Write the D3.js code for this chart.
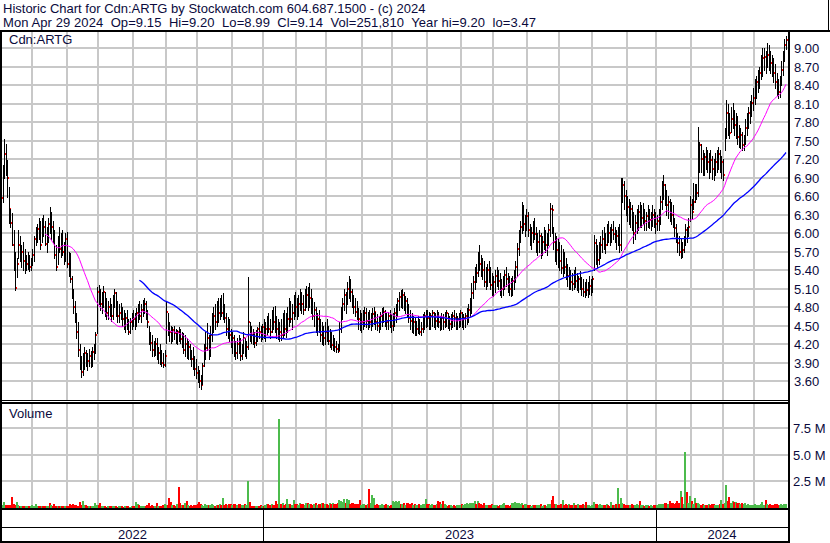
<!DOCTYPE html>
<html><head><meta charset="utf-8">
<script src="https://cdn.jsdelivr.net/npm/d3@7"></script>
<style>
body{margin:0;background:#fff}
svg{display:block}
text{font-family:Arial,"Liberation Sans",sans-serif;font-size:13px;fill:#0a0a3c}
</style>
</head><body>
<svg id="c" width="830" height="543"></svg>
<script>
// ---- categories: trading days (TSX holidays removed) ----
const firstDay = "2022-05-02";
const lastDay = "2024-04-29";
const holidays = ["2022-05-23","2022-07-01","2022-08-01","2022-09-05","2022-10-10","2022-12-26","2022-12-27",
"2023-01-02","2023-02-20","2023-04-07","2023-05-22","2023-07-03","2023-08-07","2023-09-04","2023-10-09","2023-12-25","2023-12-26",
"2024-01-01","2024-02-19","2024-03-29"];

// ---- series values ----
const high = [
6.60,6.86,7.10,7.53,7.45,7.19,6.75,6.40,6.33,6.05, 5.70,5.60,6.05,5.95,5.80,5.85,5.75,5.65,5.70,5.65,
5.60,5.75,5.95,6.10,6.15,6.25,6.20,6.25,6.30,6.20, 6.10,6.25,6.42,6.35,6.20,6.05,5.80,5.95,6.10,6.00,
6.05,5.85,6.00,6.02,5.70,5.68,5.30,5.10,4.90,4.70, 4.55,4.20,4.00,4.05,4.15,4.10,4.05,4.12,4.08,4.15,
4.20,4.40,5.13,5.16,5.10,5.05,5.15,5.05,4.95,4.90, 4.95,4.85,5.00,5.10,5.05,4.90,4.85,4.87,4.80,4.75,
4.70,4.75,4.60,4.62,4.70,4.75,4.70,4.78,4.85,4.90, 4.85,4.92,4.95,4.90,4.75,4.50,4.40,4.35,4.25,4.30,
4.30,4.15,4.20,4.10,4.05,4.10,4.88,4.70,4.55,4.50, 4.48,4.50,4.45,4.42,4.48,4.45,4.40,4.38,4.35,4.30,
4.25,4.20,4.10,4.15,4.00,3.95,3.85,3.78,3.70,3.90, 4.20,4.40,4.54,4.35,4.50,4.70,4.80,4.85,4.90,4.95,
4.95,5.00,5.03,4.85,4.70,4.64,4.60,4.45,4.40,4.35, 4.25,4.30,4.35,4.30,4.20,4.40,4.30,4.25,5.29,4.55,
4.50,4.45,4.40,4.42,4.48,4.55,4.50,4.52,4.60,4.55, 4.65,4.70,4.60,4.75,4.80,4.82,4.65,4.60,4.55,4.60,
4.70,4.75,4.70,4.80,4.95,4.90,4.85,5.00,5.05,4.95, 5.00,5.10,5.05,5.00,5.10,5.15,5.12,5.19,5.10,4.95,
4.88,4.80,4.70,4.75,4.60,4.55,4.50,4.55,4.60,4.50, 4.45,4.40,4.35,4.30,4.25,4.20,4.55,4.80,4.95,5.10,
5.05,5.20,5.30,5.25,5.10,5.00,4.95,4.90,4.78,4.75, 4.70,4.75,4.80,4.78,4.72,4.75,4.70,4.78,4.80,4.72,
4.68,4.65,4.72,4.78,4.80,4.75,4.70,4.72,4.75,4.68, 4.70,4.78,4.85,4.95,5.05,5.08,5.09,5.05,4.98,4.95,
4.85,4.75,4.70,4.65,4.62,4.58,4.65,4.60,4.55,4.68, 4.72,4.75,4.75,4.72,4.70,4.75,4.72,4.70,4.75,4.72,
4.65,4.70,4.68,4.72,4.75,4.70,4.65,4.68,4.72,4.75, 4.70,4.66,4.70,4.75,4.72,4.68,4.70,4.78,4.85,4.95,
5.19,5.30,5.45,5.50,5.70,5.80,5.65,5.60,5.55,5.45, 5.50,5.55,5.45,5.35,5.30,5.40,5.45,5.40,5.35,5.25,
5.30,5.40,5.45,5.35,5.30,5.28,5.30,5.40,5.55,5.84, 6.05,6.20,6.50,6.45,6.30,6.40,6.35,6.15,6.10,6.20,
6.25,6.10,6.00,6.05,6.00,5.95,6.10,6.05,6.00,6.15, 6.49,6.45,6.10,6.00,5.95,5.90,5.85,5.80,5.75,5.70,
5.60,5.50,5.45,5.40,5.35,5.40,5.45,5.35,5.30,5.38, 5.29,5.25,5.20,5.25,5.20,5.30,5.25,5.30,5.97,5.90,
5.80,5.85,5.95,6.05,6.10,6.00,6.15,6.20,6.10,6.15, 6.20,6.10,6.05,6.10,6.15,6.90,6.90,6.85,6.70,6.60,
6.55,6.50,6.45,6.35,6.30,6.40,6.45,6.50,6.45,6.49, 6.40,6.35,6.45,6.40,6.35,6.45,6.40,6.35,6.30,6.40,
6.60,6.85,6.94,6.80,6.70,6.60,6.55,6.50,6.45,6.25, 6.15,6.00,5.95,5.90,5.85,5.95,6.15,6.10,6.25,6.60,
6.55,6.81,6.80,6.80,7.72,7.48,7.45,7.35,7.30,7.40, 7.35,7.30,7.35,7.25,7.20,7.30,7.35,7.40,7.35,7.25,
7.20,7.70,8.16,8.10,7.95,8.05,8.11,8.00,7.95,7.90, 7.75,7.70,7.65,7.60,7.85,7.95,8.05,8.15,8.25,8.35,
8.50,8.55,8.65,8.70,8.90,9.00,9.00,8.95,9.09,9.05, 8.95,8.90,8.85,8.75,8.60,8.50,8.55,8.80,8.95,9.15,
9.20];
const low = [
6.20,6.34,6.50,6.90,6.95,6.59,6.16,6.10,5.80,5.40, 5.08,5.29,5.60,5.55,5.45,5.40,5.35,5.40,5.42,5.38,
5.40,5.48,5.55,5.80,5.85,5.90,5.75,5.85,5.95,5.80, 5.70,5.85,6.00,5.90,5.85,5.60,5.40,5.50,5.70,5.62,
5.65,5.50,5.55,5.45,5.30,5.20,4.95,4.70,4.55,4.30, 4.00,3.80,3.66,3.70,3.80,3.85,3.78,3.85,3.82,3.85,
3.95,4.05,4.38,4.85,4.75,4.70,4.80,4.65,4.60,4.60, 4.65,4.58,4.60,4.80,4.65,4.55,4.55,4.60,4.50,4.45,
4.40,4.45,4.37,4.38,4.45,4.50,4.45,4.50,4.55,4.60, 4.55,4.65,4.70,4.60,4.48,4.20,4.10,4.00,4.00,4.02,
3.95,3.90,3.88,3.85,3.83,3.85,4.22,4.35,4.25,4.22, 4.25,4.28,4.22,4.20,4.25,4.22,4.15,4.05,4.00,3.98,
3.95,3.95,3.85,3.80,3.70,3.65,3.58,3.50,3.47,3.55, 3.85,3.95,4.10,3.95,4.00,4.25,4.40,4.45,4.50,4.55,
4.60,4.65,4.60,4.55,4.35,4.30,4.25,4.15,4.05,4.00, 3.95,3.98,4.05,3.94,3.95,4.05,4.00,3.98,4.12,4.25,
4.22,4.20,4.15,4.18,4.25,4.30,4.25,4.28,4.30,4.25, 4.35,4.40,4.30,4.40,4.45,4.40,4.30,4.28,4.25,4.27,
4.30,4.35,4.31,4.40,4.50,4.55,4.45,4.60,4.65,4.60, 4.65,4.75,4.70,4.68,4.75,4.80,4.75,4.80,4.70,4.60,
4.50,4.40,4.35,4.40,4.25,4.20,4.18,4.20,4.25,4.20, 4.15,4.12,4.10,4.08,4.07,4.07,4.10,4.40,4.60,4.75,
4.70,4.85,4.95,4.90,4.80,4.70,4.65,4.60,4.45,4.43, 4.40,4.45,4.50,4.48,4.45,4.48,4.43,4.50,4.52,4.45,
4.42,4.40,4.45,4.50,4.55,4.50,4.45,4.45,4.48,4.40, 4.42,4.50,4.55,4.65,4.75,4.80,4.78,4.75,4.70,4.65,
4.55,4.45,4.40,4.38,4.35,4.35,4.38,4.36,4.35,4.40, 4.45,4.48,4.50,4.45,4.45,4.50,4.48,4.45,4.50,4.48,
4.43,4.45,4.45,4.48,4.50,4.46,4.43,4.45,4.48,4.50, 4.45,4.44,4.47,4.50,4.48,4.45,4.47,4.52,4.55,4.65,
4.70,4.95,5.10,5.20,5.30,5.40,5.30,5.25,5.15,5.10, 5.15,5.20,5.10,5.00,4.98,5.05,5.15,5.10,5.00,4.96,
5.00,5.10,5.15,5.05,5.00,4.98,5.00,5.10,5.20,5.30, 5.65,5.85,6.00,6.05,5.95,6.05,5.95,5.80,5.75,5.85,
5.90,5.70,5.65,5.70,5.60,5.65,5.75,5.70,5.65,5.80, 5.95,6.00,5.75,5.55,5.50,5.45,5.40,5.35,5.30,5.35,
5.25,5.15,5.10,5.10,5.08,5.10,5.12,5.08,5.05,5.10, 5.00,4.98,4.96,5.00,4.96,5.02,5.00,5.05,5.40,5.50,
5.45,5.50,5.60,5.70,5.75,5.68,5.80,5.85,5.80,5.85, 5.90,5.85,5.75,5.80,5.70,5.73,6.50,6.40,6.30,6.20,
6.15,6.10,6.05,5.84,5.90,6.00,6.05,6.10,6.10,6.15, 6.05,6.05,6.10,6.08,6.05,6.12,6.10,6.00,6.05,6.05,
6.15,6.40,6.55,6.45,6.30,6.25,6.20,6.15,6.10,5.95, 5.85,5.70,5.65,5.60,5.62,5.70,5.80,5.85,5.95,6.20,
6.25,6.40,6.50,6.55,6.60,7.00,7.00,6.95,6.95,7.05, 7.00,6.90,7.00,6.88,6.86,6.95,7.00,7.05,7.00,6.90,
6.86,7.35,7.55,7.60,7.55,7.65,7.70,7.60,7.55,7.45, 7.40,7.38,7.35,7.35,7.45,7.60,7.70,7.79,7.90,8.00,
8.10,8.20,8.30,8.35,8.50,8.55,8.65,8.60,8.70,8.65, 8.60,8.55,8.45,8.35,8.25,8.19,8.21,8.40,8.57,8.80,
8.99];
const close = [
6.40,6.57,7.00,7.28,7.10,6.90,6.40,6.16,5.80,5.60, 5.11,5.50,5.80,5.62,5.70,5.55,5.45,5.50,5.60,5.45,
5.50,5.65,5.90,6.05,6.07,6.00,5.80,6.18,6.10,5.82, 5.98,6.15,6.07,6.10,5.95,5.65,5.45,5.85,5.75,5.98,
5.70,5.60,5.90,5.50,5.45,5.25,5.03,4.80,4.60,4.40, 4.10,3.90,3.75,3.95,4.05,3.96,3.92,4.00,3.95,4.07,
4.10,4.35,5.05,5.00,4.85,4.95,5.05,4.75,4.70,4.80, 4.75,4.65,4.95,5.03,4.70,4.65,4.70,4.75,4.60,4.55,
4.62,4.50,4.40,4.55,4.65,4.60,4.55,4.70,4.78,4.65, 4.75,4.80,4.85,4.70,4.55,4.30,4.22,4.10,4.07,4.20,
4.00,4.05,3.95,3.90,3.86,4.00,4.72,4.45,4.40,4.30, 4.42,4.38,4.30,4.40,4.35,4.28,4.30,4.10,4.20,4.05,
4.15,4.00,3.95,3.90,3.80,3.73,3.67,3.60,3.54,3.85, 3.96,4.14,4.30,4.05,4.35,4.55,4.65,4.55,4.75,4.70,
4.85,4.70,4.75,4.62,4.45,4.55,4.35,4.20,4.30,4.10, 4.05,4.20,4.12,4.00,4.15,4.30,4.10,4.15,4.55,4.40,
4.35,4.25,4.22,4.35,4.45,4.40,4.30,4.48,4.38,4.45, 4.55,4.45,4.40,4.62,4.55,4.50,4.45,4.35,4.40,4.35,
4.55,4.45,4.40,4.60,4.75,4.60,4.70,4.90,4.80,4.70, 4.85,4.95,4.85,4.75,4.90,5.00,4.85,4.95,4.78,4.65,
4.75,4.50,4.60,4.45,4.35,4.45,4.30,4.40,4.35,4.25, 4.30,4.18,4.22,4.15,4.12,4.09,4.45,4.70,4.85,5.00,
4.90,5.10,5.15,5.05,4.95,4.80,4.72,4.70,4.60,4.50, 4.55,4.65,4.70,4.58,4.62,4.55,4.60,4.68,4.72,4.55,
4.50,4.48,4.65,4.70,4.72,4.62,4.55,4.65,4.52,4.49, 4.58,4.70,4.75,4.90,4.96,4.92,5.00,4.85,4.90,4.75,
4.62,4.58,4.48,4.55,4.42,4.45,4.50,4.40,4.45,4.60, 4.65,4.70,4.62,4.55,4.65,4.70,4.60,4.58,4.68,4.55,
4.50,4.62,4.55,4.65,4.70,4.60,4.52,4.58,4.66,4.62, 4.55,4.60,4.64,4.70,4.58,4.62,4.65,4.72,4.75,4.90,
5.03,5.20,5.40,5.35,5.55,5.50,5.45,5.40,5.20,5.30, 5.40,5.35,5.16,5.10,5.20,5.30,5.35,5.22,5.05,5.10,
5.20,5.32,5.25,5.15,5.10,5.05,5.22,5.35,5.45,5.75, 5.95,6.10,6.35,6.15,6.20,6.28,6.05,5.90,6.00,6.12,
5.98,5.80,5.85,5.95,5.70,5.85,5.90,5.80,5.92,6.05, 6.40,6.38,5.85,5.60,5.72,5.65,5.55,5.43,5.50,5.45,
5.35,5.30,5.38,5.20,5.17,5.28,5.22,5.15,5.25,5.20, 5.10,5.05,5.12,5.08,5.11,5.15,5.18,5.25,5.84,5.67,
5.56,5.75,5.80,5.90,5.85,5.80,6.02,6.00,5.95,6.05, 5.98,6.00,5.95,6.02,5.80,6.70,6.78,6.60,6.49,6.43,
6.30,6.40,6.20,6.00,6.17,6.25,6.35,6.20,6.25,6.32, 6.20,6.28,6.35,6.22,6.25,6.30,6.28,6.15,6.20,6.30,
6.50,6.70,6.78,6.55,6.45,6.50,6.38,6.30,6.20,6.08, 5.95,5.84,5.70,5.80,5.72,5.85,6.05,5.95,6.10,6.45,
6.35,6.50,6.70,6.65,7.10,7.43,7.20,7.10,7.24,7.19, 7.15,7.20,7.19,7.05,7.02,7.15,7.25,7.28,7.10,7.15,
6.95,7.60,7.95,7.67,7.62,7.85,7.88,7.75,7.80,7.56, 7.50,7.60,7.43,7.45,7.70,7.80,7.95,8.05,8.12,8.20,
8.35,8.45,8.55,8.60,8.70,8.85,8.86,8.80,8.90,8.85, 8.76,8.70,8.60,8.45,8.40,8.30,8.45,8.65,8.84,9.05,
9.14];
// daily volume, thousands of shares
const volume = [
300,250,200,480,200,150,200,150,980,250, 200,440,150,100,120,80,100,60,80,100,
70,150,100,300,80,60,100,120,80,60, 100,80,400,150,100,300,80,60,100,50,
80,60,100,120,80,300,200,250,150,200, 100,450,150,600,200,150,60,80,50,100,
120,350,200,150,350,50,60,80,40,60, 50,80,60,50,70,40,60,50,80,40,
60,50,70,40,60,50,80,450,300,200, 60,60,80,100,150,400,100,150,80,120,
380,100,80,120,150,300,200,150,890,450, 150,200,100,250,1900,400,200,150,400,550,
150,100,150,120,200,150,250,500,300,200, 100,250,200,150,200,250,180,100,200,150,
250,150,850,200,300,150,250,300,200,250, 300,200,250,300,150,200,250,200,2500,450,
100,80,100,60,120,80,200,100,80,150, 250,300,150,300,200,150,600,250,8400,300,
400,200,250,780,300,250,200,700,300,250, 200,350,300,250,200,400,350,300,250,200,
300,350,200,300,250,400,350,250,300,200, 350,300,400,250,300,350,700,600,500,750,
400,800,650,300,400,350,300,250,300,650, 200,300,250,200,300,1700,350,1100,900,200,
300,150,200,250,150,200,250,150,100,200, 550,500,600,450,550,300,250,400,200,350,
400,300,350,200,300,150,200,250,150,250, 300,800,250,300,200,250,150,200,300,550,
450,300,600,250,150,100,200,150,100,150, 100,200,150,200,250,200,300,350,300,400,
350,400,550,300,550,350,250,200,400,150, 200,150,200,250,150,200,150,100,200,150,
250,350,200,150,100,150,350,400,450,400, 350,300,400,200,250,300,150,200,100,150,
200,150,200,150,250,100,150,200,100,250, 300,700,1050,300,250,150,200,250,700,200,
300,150,250,200,150,400,200,150,250,150, 200,250,150,450,200,150,100,200,500,300,
250,200,250,150,200,150,250,150,100,450, 150,200,250,1800,300,900,400,250,200,150,
200,150,300,200,150,250,200,600,150,200, 100,150,200,100,150,100,150,200,150,250,
300,300,250,400,350,300,550,400,350,300, 400,600,350,1500,1000,300,5200,1400,400,1050,
600,300,900,350,400,300,200,250,150,200, 150,250,200,300,250,200,150,200,250,700,
300,350,2100,600,950,400,550,450,500,350, 400,300,350,250,400,200,250,150,200,150,
250,200,150,200,250,500,200,650,300,200, 250,150,200,250,300,200,150,250,200,300,
252];

// ---- tick labels ----
const priceTicks = [3.60,3.90,4.20,4.50,4.80,5.10,5.40,5.70,6.00,6.30,6.60,6.90,7.20,7.50,7.80,8.10,8.40,8.70,9.00];
const volumeTicks = [2.5e6, 5.0e6, 7.5e6];
const volumeTickLabels = ["2.5 M","5.0 M","7.5 M"];
const maWindows = [30, 90];
const titleLine1 = "Historic Chart for Cdn:ARTG by Stockwatch.com 604.687.1500 - (c) 2024";
const titleLine2 = "Mon Apr 29 2024  Op=9.15  Hi=9.20  Lo=8.99  Cl=9.14  Vol=251,810  Year hi=9.20  lo=3.47";
const symbolLabel = "Cdn:ARTG";
const volumeLabel = "Volume";

// ---- build ----
const svg = d3.select("#c");
const N = close.length;
const fmt = d3.timeFormat("%Y-%m-%d"), parse = d3.timeParse("%Y-%m-%d");
const days = d3.timeDay.range(parse(firstDay), d3.timeDay.offset(parse(lastDay), 1))
  .filter(d => d.getDay() % 6 !== 0 && !holidays.includes(fmt(d)));

const x = d3.scaleLinear().domain([0, N - 1]).range([-0.6, 786]);
const y = d3.scaleLinear().domain([3.6, 9.0]).range([381, 48.4]);
const yv = d3.scaleLinear().domain([0, 7.5e6]).range([507, 428.3]);
const gx = i => Math.round(x(i) - 0.5);

const monthStarts = [], yearStarts = [];
for (let i = 1; i < Math.min(days.length, N); i++) {
  if (days[i].getMonth() !== days[i-1].getMonth()) monthStarts.push(i);
  if (days[i].getFullYear() !== days[i-1].getFullYear()) yearStarts.push(i);
}

svg.append("rect").attr("width", 830).attr("height", 543).attr("fill", "#fff");
const defs = svg.append("defs");
defs.append("clipPath").attr("id", "pclip").append("rect").attr("x", 2).attr("y", 32).attr("width", 786).attr("height", 368);
defs.append("clipPath").attr("id", "vclip").append("rect").attr("x", 2).attr("y", 404).attr("width", 786).attr("height", 104);

const grid = svg.append("g").attr("fill", "#c8c8c8").attr("shape-rendering", "crispEdges");
monthStarts.forEach(i => {
  grid.append("rect").attr("x", gx(i) - 1).attr("y", 32).attr("width", 2).attr("height", 368);
  grid.append("rect").attr("x", gx(i) - 1).attr("y", 404).attr("width", 2).attr("height", 104);
});
priceTicks.forEach(p => grid.append("rect").attr("x", 2).attr("y", Math.round(y(p)) - 1).attr("width", 786).attr("height", 2));
volumeTicks.forEach(v => grid.append("rect").attr("x", 2).attr("y", Math.round(yv(v)) - 1).attr("width", 786).attr("height", 2));

// price bars (high-low line with red close mark on its right)
const bars = svg.append("g").attr("clip-path", "url(#pclip)").attr("shape-rendering", "crispEdges");
for (let i = 0; i < N; i++) {
  const xi = Math.round(x(i));
  const yh = Math.round(y(high[i])), yl = Math.round(y(low[i]));
  bars.append("rect").attr("x", xi).attr("y", yh).attr("width", 1).attr("height", Math.max(1, yl - yh + 1)).attr("fill", "#000");
  bars.append("rect").attr("x", xi + 1).attr("y", Math.round(y(close[i])) - 1).attr("width", 1).attr("height", 2).attr("fill", "#ff0000");
}

// moving averages
const maColors = ["#ff00ff", "#0000ff"], maWidths = [1, 1.3];
maWindows.forEach((w, k) => {
  const pts = [];
  for (let i = w - 1; i < N; i++) pts.push([i, d3.mean(close.slice(i - w + 1, i + 1))]);
  svg.append("path").attr("clip-path", "url(#pclip)")
    .attr("d", d3.line().x(d => x(d[0])).y(d => y(d[1]))(pts))
    .attr("fill", "none").attr("stroke", maColors[k]).attr("stroke-width", maWidths[k]);
});

// volume bars
const vg = svg.append("g").attr("clip-path", "url(#vclip)").attr("shape-rendering", "crispEdges");
for (let i = 0; i < N; i++) {
  const v = volume[i] * 1000;
  const col = i === 0 ? "#4cbb4c" : close[i] > close[i-1] ? "#4cbb4c" : close[i] < close[i-1] ? "#ff0000" : "#a8a8a8";
  const yt = Math.round(yv(v));
  vg.append("rect").attr("x", Math.round(x(i)) - 1).attr("y", yt).attr("width", 2).attr("height", Math.max(1, 508 - yt)).attr("fill", col);
}

// frame lines
const fr = svg.append("g").attr("fill", "#000").attr("shape-rendering", "crispEdges");
fr.append("rect").attr("x", 0).attr("y", 30).attr("width", 830).attr("height", 2);
fr.append("rect").attr("x", 0).attr("y", 30).attr("width", 2).attr("height", 513);
fr.append("rect").attr("x", 788).attr("y", 30).attr("width", 2).attr("height", 513);
fr.append("rect").attr("x", 828).attr("y", 0).attr("width", 1).attr("height", 31);
fr.append("rect").attr("x", 0).attr("y", 400).attr("width", 790).attr("height", 1);
fr.append("rect").attr("x", 0).attr("y", 402).attr("width", 790).attr("height", 2);
fr.append("rect").attr("x", 0).attr("y", 508).attr("width", 790).attr("height", 2);
fr.append("rect").attr("x", 0).attr("y", 527).attr("width", 790).attr("height", 1);
fr.append("rect").attr("x", 0).attr("y", 541).attr("width", 790).attr("height", 2);
yearStarts.forEach(i => fr.append("rect").attr("x", gx(i)).attr("y", 510).attr("width", 1).attr("height", 31));

// texts
svg.append("text").attr("x", 3).attr("y", 13).style("white-space", "pre").text(titleLine1);
svg.append("text").attr("x", 3).attr("y", 27).style("white-space", "pre")
  .attr("textLength", 533).attr("lengthAdjust", "spacing").text(titleLine2);
svg.append("text").attr("x", 9).attr("y", 44).text(symbolLabel);
svg.append("text").attr("x", 9).attr("y", 418).text(volumeLabel);

svg.append("g").selectAll("text").data(priceTicks).join("text")
  .attr("x", 794).attr("y", p => y(p) + 5).text(p => p.toFixed(2));
svg.append("g").selectAll("text").data(volumeTicks).join("text")
  .attr("x", 793).attr("y", v => yv(v) + 5).text((v, k) => volumeTickLabels[k]);

// year labels
const bounds = [2, ...yearStarts.map(gx), 788];
for (let k = 0; k < bounds.length - 1; k++) {
  const yr = (days[k === 0 ? 0 : yearStarts[k-1]]).getFullYear();
  svg.append("text").attr("x", (bounds[k] + bounds[k+1]) / 2).attr("y", 539)
    .attr("text-anchor", "middle").text(String(yr));
}
</script>
</body></html>
